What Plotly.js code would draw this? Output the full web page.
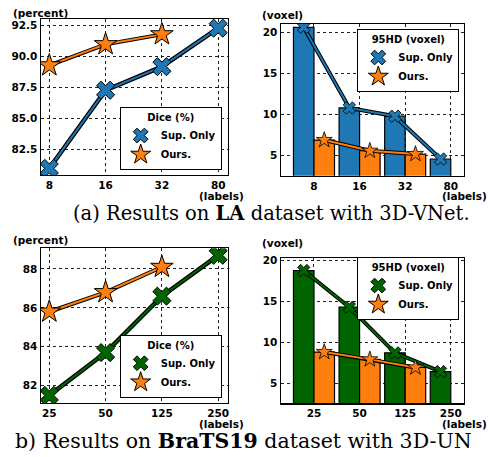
<!DOCTYPE html>
<html>
<head>
<meta charset="utf-8">
<script src="https://cdn.plot.ly/plotly-3.0.1.min.js"></script>
<style>html,body{margin:0;padding:0;background:#fff;}#chart{width:488px;height:457px;}</style>
</head>
<body>
<div id="chart"></div>
<script>
// ---- data ----
const laLabels = ['8', '16', '32', '80'];
const laDiceSup = [81.0, 87.3, 89.2, 92.3];
const laDiceOurs = [89.3, 91.0, 91.8];
const la95Sup = [20.6, 10.8, 9.8, 4.6];
const la95Ours = [6.9, 5.6, 5.2];

const brLabels = ['25', '50', '125', '250'];
const brDiceSup = [81.5, 83.7, 86.6, 88.7];
const brDiceOurs = [85.8, 86.8, 88.1];
const br95Sup = [18.8, 14.3, 8.7, 6.4];
const br95Ours = [8.8, 7.9, 6.9];

const seriesNames = ['Sup. Only', 'Ours.'];
const legendTitles = ['Dice (%)', '95HD (voxel)'];

// ---- styles ----
const BLUE = '#1f77b4', ORANGE = '#ff7f0e', GREEN = '#006400';
const FONT = {family: 'DejaVu Sans', size: 10.5, color: '#000', weight: 'bold'};
const LFONT = {family: 'DejaVu Sans', size: 10, color: '#000', weight: 'bold'};
const W = 488, H = 457;
const px = v => v / W;
const py = v => 1 - v / H;
const idx = arr => arr.map((_, i) => i);

const traces = [];

function lineChart(sup, ours, supColor, xa, ya, lg) {
  const xs = idx(sup), xo = idx(ours);
  traces.push({x: xs, y: sup, xaxis: xa, yaxis: ya, mode: 'lines', line: {color: '#000', width: 4.5}, showlegend: false, hoverinfo: 'skip'});
  traces.push({x: xs, y: sup, xaxis: xa, yaxis: ya, mode: 'lines+markers', line: {color: supColor, width: 2},
    marker: {symbol: 'x', size: 16, color: supColor, line: {color: '#000', width: 1}}, showlegend: false});
  traces.push({x: xo, y: ours, xaxis: xa, yaxis: ya, mode: 'lines', line: {color: '#000', width: 4}, showlegend: false, hoverinfo: 'skip'});
  traces.push({x: xo, y: ours, xaxis: xa, yaxis: ya, mode: 'lines+markers', line: {color: ORANGE, width: 2},
    marker: {symbol: 'star', size: 17, color: ORANGE, line: {color: '#000', width: 1}}, showlegend: false});
  legendTraces(supColor, xa, ya, lg);
}

function barChart(sup, ours, supColor, xa, ya, lg) {
  const BW = 0.45;
  traces.push({type: 'bar', x: idx(sup), y: sup, xaxis: xa, yaxis: ya, width: BW, offset: -BW,
    marker: {color: supColor, line: {color: '#000', width: 1.2}}, showlegend: false});
  traces.push({type: 'bar', x: idx(ours), y: ours, xaxis: xa, yaxis: ya, width: BW, offset: 0,
    marker: {color: ORANGE, line: {color: '#000', width: 1.2}}, showlegend: false});
  const xs = idx(sup).map(i => i - BW / 2), xo = idx(ours).map(i => i + BW / 2);
  traces.push({x: xs, y: sup, xaxis: xa, yaxis: ya, mode: 'lines', line: {color: '#000', width: 4}, showlegend: false, hoverinfo: 'skip'});
  traces.push({x: xs, y: sup, xaxis: xa, yaxis: ya, mode: 'lines+markers', line: {color: supColor, width: 2},
    marker: {symbol: 'x', size: 11, color: supColor, line: {color: '#000', width: 0.8}}, showlegend: false});
  traces.push({x: xo, y: ours, xaxis: xa, yaxis: ya, mode: 'lines', line: {color: '#000', width: 4}, showlegend: false, hoverinfo: 'skip'});
  traces.push({x: xo, y: ours, xaxis: xa, yaxis: ya, mode: 'lines+markers', line: {color: ORANGE, width: 2},
    marker: {symbol: 'star', size: 12, color: ORANGE, line: {color: '#000', width: 0.8}}, showlegend: false});
  legendTraces(supColor, xa, ya, lg);
}

function legendTraces(supColor, xa, ya, lg) {
  traces.push({x: [null], y: [null], xaxis: xa, yaxis: ya, mode: 'markers', name: seriesNames[0], legend: lg,
    marker: {symbol: 'x', size: 13, color: supColor, line: {color: '#000', width: 1}}});
  traces.push({x: [null], y: [null], xaxis: xa, yaxis: ya, mode: 'markers', name: seriesNames[1], legend: lg,
    marker: {symbol: 'star', size: 15, color: ORANGE, line: {color: '#000', width: 1}}});
}

lineChart(laDiceSup, laDiceOurs, BLUE, 'x', 'y', 'legend');
barChart(la95Sup, la95Ours, BLUE, 'x2', 'y2', 'legend2');
lineChart(brDiceSup, brDiceOurs, GREEN, 'x3', 'y3', 'legend3');
barChart(br95Sup, br95Ours, GREEN, 'x4', 'y4', 'legend4');

function xAxis(labels, range, domain, anchor) {
  return {domain: domain, range: range, anchor: anchor, tickmode: 'array', tickvals: idx(labels), ticktext: labels,
    showgrid: true, gridcolor: '#222', griddash: 'dot', gridwidth: 1, zeroline: false,
    showline: true, mirror: true, linecolor: '#000', linewidth: 1.2, ticks: '', tickfont: FONT, fixedrange: true};
}
function yAxis(tickvals, fmt, range, domain, anchor) {
  return {domain: domain, range: range, anchor: anchor, tickmode: 'array', tickvals: tickvals, tickformat: fmt,
    showgrid: true, gridcolor: '#222', griddash: 'dot', gridwidth: 1, zeroline: false,
    showline: true, mirror: true, linecolor: '#000', linewidth: 1.2, ticks: '', tickfont: FONT, fixedrange: true};
}
function legend(title, right, yv, yanchor) {
  return {title: {text: title, font: LFONT, side: 'top center'}, font: LFONT, x: right, y: yv, xanchor: 'right', yanchor: yanchor,
    bgcolor: '#fff', bordercolor: '#000', borderwidth: 1, tracegroupgap: 0, itemwidth: 30};
}
function txt(text, x, y, xanchor, font) {
  return {text: text, x: x, y: y, xref: 'paper', yref: 'paper', xanchor: xanchor, yanchor: 'middle', showarrow: false, font: font || FONT};
}

const SERIF_A = {family: 'DejaVu Serif', size: 19.5, color: '#000'};
const SERIF_B = {family: 'DejaVu Serif', size: 20.5, color: '#000'};

const layout = {
  width: W, height: H, margin: {l: 0, r: 0, t: 0, b: 0}, paper_bgcolor: '#fff', plot_bgcolor: '#fff',
  showlegend: true, barmode: 'overlay',
  xaxis: xAxis(laLabels, [-0.153, 3.169], [px(40.7), px(227.7)], 'y'),
  yaxis: yAxis([82.5, 85, 87.5, 90, 92.5], '.1f', [80.47, 93.04], [py(175), py(19)], 'x'),
  xaxis2: xAxis(laLabels, [-0.73, 3.29], [px(280.7), px(464)], 'y2'),
  yaxis2: yAxis([5, 10, 15, 20], 'd', [2.57, 21.0], [py(175.7), py(24)], 'x2'),
  xaxis3: xAxis(brLabels, [-0.153, 3.169], [px(40.7), px(227.7)], 'y3'),
  yaxis3: yAxis([82, 84, 86, 88], 'd', [81.11, 89.06], [py(403), py(248.3)], 'x3'),
  xaxis4: xAxis(brLabels, [-0.73, 3.29], [px(280.7), px(464)], 'y4'),
  yaxis4: yAxis([5, 10, 15, 20], 'd', [2.51, 20.3], [py(403.3), py(258.3)], 'x4'),
  legend: legend(legendTitles[0], px(221.7), py(170), 'bottom'),
  legend2: legend(legendTitles[1], px(459.3), py(29), 'top'),
  legend3: legend(legendTitles[0], px(221.7), py(397.7), 'bottom'),
  legend4: legend(legendTitles[1], px(459.3), py(257), 'top'),
  annotations: [
    txt('(percent)', px(11), py(13.3), 'left'),
    txt('(labels)', px(221.5), py(195.5), 'center'),
    txt('(voxel)', px(260), py(15), 'left'),
    txt('(labels)', px(464.3), py(195.5), 'center'),
    txt('(percent)', px(11), py(240), 'left'),
    txt('(labels)', px(221.5), py(423.5), 'center'),
    txt('(voxel)', px(260), py(243.3), 'left'),
    txt('(labels)', px(464.3), py(423.5), 'center'),
    txt('(a) Results on <b>LA</b> dataset with 3D-VNet.', px(271.5), py(213.5), 'center', SERIF_A),
    txt('b) Results on <b>BraTS19</b> dataset with 3D-UN', px(243.5), py(441), 'center', SERIF_B)
  ]
};

Plotly.newPlot('chart', traces, layout, {staticPlot: true, displayModeBar: false});
</script>
</body>
</html>
